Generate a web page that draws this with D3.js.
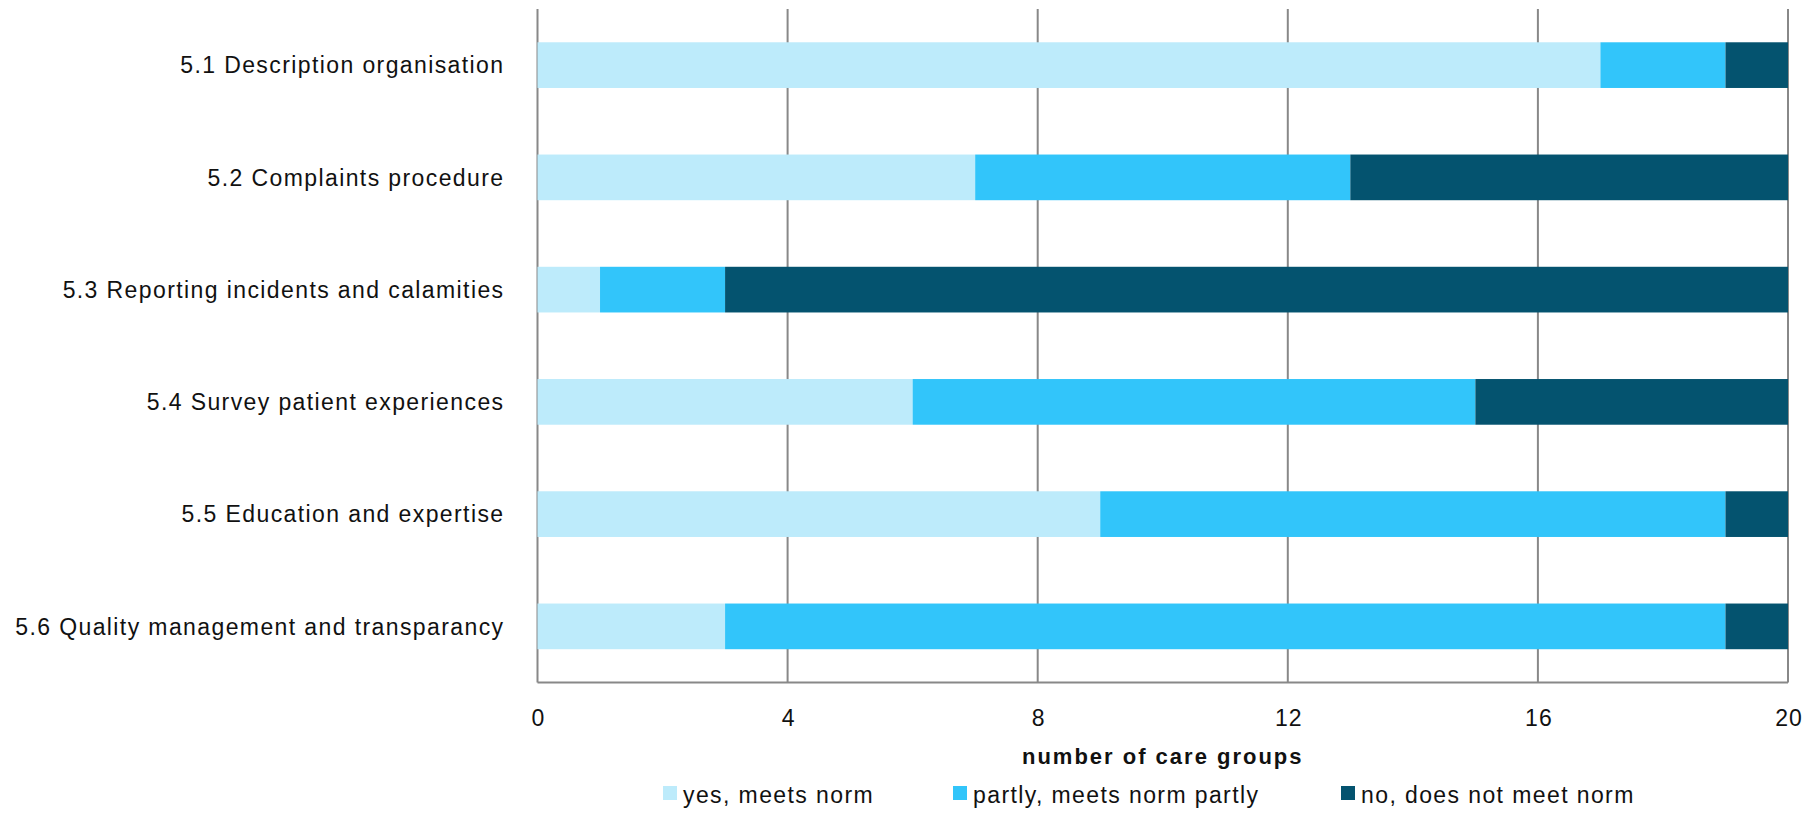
<!DOCTYPE html>
<html>
<head>
<meta charset="utf-8">
<script src="https://cdn.jsdelivr.net/npm/d3@7"></script>
<style>
body{margin:0;background:#fff;}
svg{display:block;font-family:"Liberation Sans",Arial,sans-serif;}
.cat-label,.legend-label{font-size:23px;letter-spacing:1.4px;fill:#111;}
.tick-label{font-size:23px;letter-spacing:1px;fill:#111;}
.axis-title{font-size:22px;font-weight:bold;letter-spacing:2px;fill:#111;}
</style>
</head>
<body>
<svg id="chart" width="1816" height="815"></svg>
<script>
// data
var categories = ["5.1 Description organisation","5.2 Complaints procedure","5.3 Reporting incidents and calamities",
  "5.4 Survey patient experiences","5.5 Education and expertise","5.6 Quality management and transparancy"];
var seriesNames = ["yes, meets norm","partly, meets norm partly","no, does not meet norm"];
var yesValues = [17,7,1,6,9,3];
var partlyValues = [2,6,2,9,10,16];
var noValues = [1,7,17,5,1,1];
var xTicks = [0,4,8,12,16,20];
var colours = ["#bdebfb","#32c5fa","#04536f"];

var svg = d3.select("#chart"),
    margin = {top: 9, right: 28, bottom: 132.5, left: 537.5},
    width = 1816 - margin.left - margin.right,
    height = 815 - margin.top - margin.bottom;

var rows = categories.map(function(c,i){
  return {cat: c, yes: yesValues[i], partly: partlyValues[i], no: noValues[i]};
});
var stack = d3.stack().keys(["yes","partly","no"])(rows);

var x = d3.scaleLinear().domain([0,20]).range([0,width]);
var y = d3.scaleBand().domain(categories).range([0,height]).paddingInner(0.593).paddingOuter(0.2965);
var c = d3.scaleOrdinal().domain(["yes","partly","no"]).range(colours);

var g = svg.append("g").attr("transform","translate("+margin.left+","+margin.top+")");

// vertical gridlines
g.selectAll("line.grid").data(xTicks).enter().append("line")
  .attr("class","grid")
  .attr("x1",function(d){return x(d);}).attr("x2",function(d){return x(d);})
  .attr("y1",0).attr("y2",height)
  .attr("stroke","#888").attr("stroke-width",2);

// bars
g.selectAll("g.series").data(stack).enter().append("g")
  .attr("class","series")
  .attr("fill",function(d){return c(d.key);})
  .selectAll("rect").data(function(d){return d;}).enter().append("rect")
  .attr("x",function(d){return x(d[0]);})
  .attr("width",function(d){return x(d[1])-x(d[0]);})
  .attr("y",function(d){return y(d.data.cat);})
  .attr("height",y.bandwidth());

// bottom axis line
g.append("line").attr("x1",0).attr("x2",width).attr("y1",height).attr("y2",height)
  .attr("stroke","#888").attr("stroke-width",2);

// category labels
g.selectAll("text.cat-label").data(categories).enter().append("text")
  .attr("class","cat-label")
  .attr("x",-33)
  .attr("y",function(d){return y(d)+y.bandwidth()/2;})
  .attr("dy","0.36em")
  .attr("text-anchor","end")
  .text(function(d){return d;});

// tick labels
g.selectAll("text.tick-label").data(xTicks).enter().append("text")
  .attr("class","tick-label")
  .attr("x",function(d){return x(d)+1;})
  .attr("y",height+43)
  .attr("text-anchor","middle")
  .text(function(d){return d;});

// axis title
g.append("text").attr("class","axis-title")
  .attr("x",width/2).attr("y",height+81)
  .attr("text-anchor","middle")
  .text("number of care groups");

// legend
var legendX = [663,953,1341];
var legend = svg.selectAll("g.legend").data(seriesNames).enter().append("g")
  .attr("class","legend")
  .attr("transform",function(d,i){return "translate("+legendX[i]+",786)";});
legend.append("rect").attr("width",14).attr("height",14)
  .attr("fill",function(d,i){return colours[i];});
legend.append("text").attr("class","legend-label")
  .attr("x",20).attr("y",17)
  .text(function(d){return d;});
</script>
</body>
</html>
